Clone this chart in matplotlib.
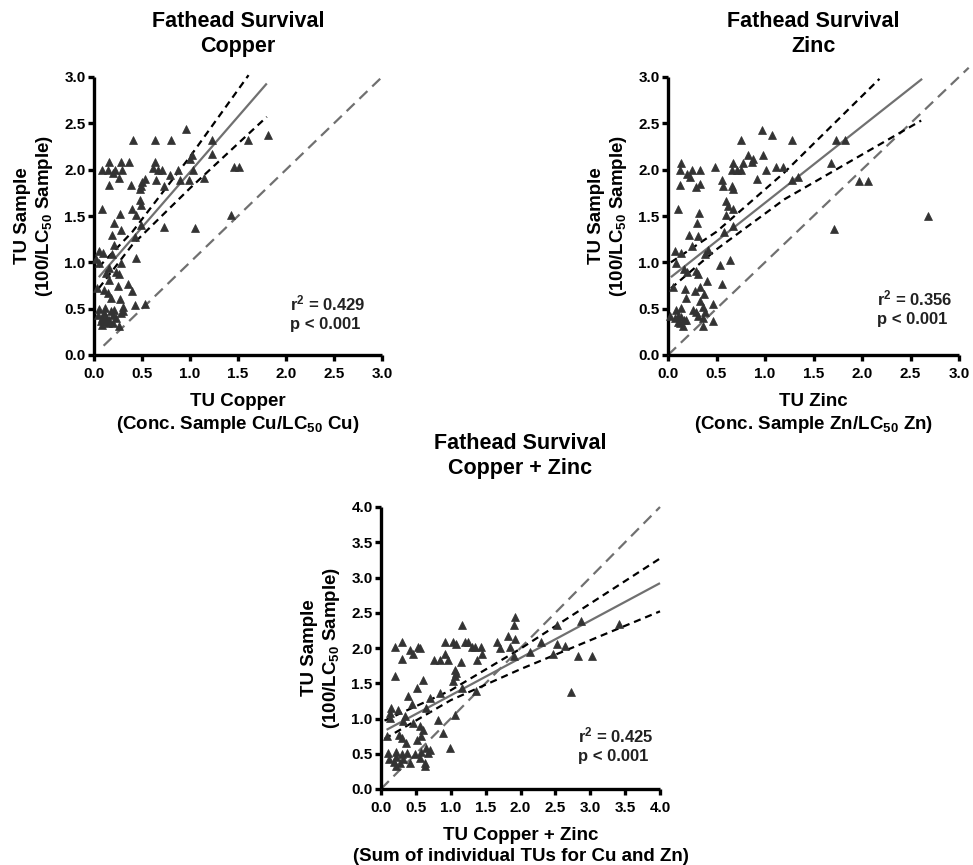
import matplotlib
matplotlib.use("Agg")
import matplotlib.pyplot as plt
import numpy as np

plt.rcParams['font.family'] = ['Liberation Sans', 'DejaVu Sans']
plt.rcParams['font.weight'] = 'bold'
plt.rcParams['mathtext.fontset'] = 'custom'
plt.rcParams['mathtext.rm'] = 'Liberation Sans:bold'
plt.rcParams['mathtext.it'] = 'Liberation Sans:bold'
plt.rcParams['mathtext.bf'] = 'Liberation Sans:bold'

# ---------------- data ----------------
cu_x = [0.958, 0.405, 0.634, 0.803, 1.225, 1.60, 1.81, 1.225, 1.02, 1.0, 0.158, 0.282, 0.363, 0.634,
        0.081, 0.141, 0.222, 0.292, 0.194, 0.257, 0.158, 0.616, 0.669, 0.704, 0.641, 0.792, 0.88, 1.03,
        0.898, 0.986, 1.144, 1.46, 1.51, 0.528, 0.503, 0.493, 0.475, 0.387, 0.729, 0.475, 0.493, 0.088,
        0.398, 0.433, 0.271, 1.426, 0.205, 0.493, 0.729, 1.049, 0.282, 0.187, 0.423, 0.211, 0.053, 0.095,
        0.19, 0.433, 0.018, 0.053, 0.282, 0.158, 0.229, 0.257, 0.123, 0.158, 0.352, 0.246, 0.035, 0.106,
        0.398, 0.141, 0.176, 0.271, 0.423, 0.528, 0.299, 0.299, 0.282, 0.053, 0.116, 0.211, 0.046, 0.088,
        0.123, 0.158, 0.194, 0.081, 0.141, 0.106, 0.176, 0.229, 0.264, 0.07, 0.13, 0.20]
cu_y = [2.44, 2.32, 2.32, 2.32, 2.32, 2.32, 2.37, 2.17, 2.16, 2.12, 2.08, 2.08, 2.08, 2.08,
        2.0, 2.0, 2.0, 2.0, 1.96, 1.91, 1.83, 2.02, 2.0, 2.0, 1.89, 1.94, 2.0, 2.0,
        1.89, 1.89, 1.91, 2.03, 2.03, 1.90, 1.87, 1.82, 1.79, 1.83, 1.82, 1.67, 1.62, 1.58,
        1.58, 1.51, 1.52, 1.51, 1.42, 1.40, 1.38, 1.37, 1.35, 1.30, 1.27, 1.19, 1.12, 1.10,
        1.09, 1.05, 1.04, 0.99, 0.99, 0.94, 0.90, 0.87, 0.88, 0.81, 0.77, 0.74, 0.72, 0.70,
        0.69, 0.67, 0.61, 0.60, 0.54, 0.55, 0.52, 0.47, 0.45, 0.50, 0.51, 0.49, 0.43, 0.40,
        0.41, 0.38, 0.43, 0.32, 0.34, 0.45, 0.47, 0.40, 0.31, 0.37, 0.37, 0.35]

zn_x = [0.966, 1.076, 0.748, 1.276, 1.731, 1.828, 0.828, 0.983, 0.879, 0.862, 0.666, 0.769, 1.683, 0.131,
        0.483, 0.128, 0.252, 0.328, 0.655, 0.714, 0.748, 1.01, 1.11, 1.19, 0.197, 0.231, 0.328, 0.293,
        0.128, 0.552, 0.569, 0.655, 0.672, 0.914, 1.276, 1.338, 1.966, 2.06, 0.603, 0.621, 0.666, 0.603,
        0.103, 0.321, 0.303, 0.666, 0.579, 1.707, 2.68, 0.217, 0.31, 0.252, 0.414, 0.379, 0.069, 0.138,
        0.079, 0.638, 0.534, 0.162, 0.197, 0.293, 0.31, 0.397, 0.052, 0.172, 0.276, 0.328, 0.552, 0.19,
        0.369, 0.328, 0.459, 0.079, 0.138, 0.259, 0.362, 0.293, 0.379, 0.017, 0.069, 0.103, 0.138, 0.162,
        0.103, 0.155, 0.19, 0.31, 0.362, 0.466, 0.362, 0.128]
zn_y = [2.43, 2.37, 2.32, 2.32, 2.32, 2.32, 2.16, 2.16, 2.12, 2.08, 2.07, 2.07, 2.07, 2.07,
        2.03, 2.0, 2.0, 2.0, 2.0, 2.0, 2.0, 2.0, 2.03, 2.03, 1.95, 1.92, 1.84, 1.81,
        1.83, 1.89, 1.82, 1.82, 1.79, 1.90, 1.89, 1.92, 1.88, 1.88, 1.66, 1.61, 1.58, 1.51,
        1.58, 1.53, 1.42, 1.39, 1.33, 1.36, 1.50, 1.30, 1.28, 1.18, 1.13, 1.09, 1.12, 1.10,
        0.99, 1.03, 0.97, 0.93, 0.90, 0.91, 0.87, 0.80, 0.73, 0.71, 0.69, 0.73, 0.77, 0.62,
        0.66, 0.58, 0.55, 0.49, 0.51, 0.49, 0.52, 0.46, 0.46, 0.42, 0.40, 0.42, 0.41, 0.38,
        0.36, 0.31, 0.38, 0.42, 0.40, 0.37, 0.31, 0.34]

cz_x = [1.92, 1.90, 1.16, 2.52, 2.87, 3.41, 1.82, 1.92, 1.66, 2.29, 1.03, 0.92, 1.20, 1.25,
        0.30, 1.07, 1.30, 1.35, 1.44, 0.20, 0.53, 0.56, 1.85, 2.52, 2.64, 0.41, 0.46, 1.71,
        0.92, 1.45, 2.13, 2.47, 0.30, 0.76, 0.85, 0.96, 1.37, 1.14, 2.83, 3.02, 1.90, 1.065,
        1.08, 1.06, 1.03, 0.20, 0.60, 0.51, 1.16, 0.84, 0.70, 1.36, 2.73, 0.39, 0.45, 0.65,
        0.14, 0.24, 0.13, 1.06, 0.34, 0.13, 0.82, 0.32, 0.46, 0.56, 0.60, 0.26, 0.89, 0.36,
        0.30, 0.58, 0.08, 0.51, 0.99, 0.65, 0.70, 0.68, 0.58, 0.105, 0.22, 0.49, 0.12, 0.18,
        0.22, 0.27, 0.32, 0.41, 0.56, 0.63, 0.63, 0.22, 0.30, 0.37]
cz_y = [2.44, 2.33, 2.33, 2.33, 2.38, 2.34, 2.17, 2.13, 2.08, 2.08, 2.08, 2.08, 2.08, 2.08,
        2.08, 2.05, 2.01, 2.01, 2.01, 2.01, 2.01, 2.0, 2.01, 2.05, 2.03, 1.97, 1.91, 2.0,
        1.91, 1.91, 1.94, 1.91, 1.84, 1.83, 1.83, 1.83, 1.83, 1.80, 1.89, 1.89, 1.89, 1.69,
        1.65, 1.60, 1.53, 1.60, 1.54, 1.43, 1.43, 1.36, 1.29, 1.39, 1.37, 1.32, 1.20, 1.15,
        1.15, 1.12, 1.08, 1.05, 1.03, 1.01, 0.98, 0.96, 0.94, 0.89, 0.84, 0.77, 0.79, 0.65,
        0.72, 0.75, 0.75, 0.70, 0.58, 0.58, 0.55, 0.51, 0.53, 0.51, 0.53, 0.49, 0.42, 0.39,
        0.46, 0.37, 0.43, 0.37, 0.44, 0.37, 0.32, 0.32, 0.49, 0.51]

# regression lines (end points) and 95% confidence bands
cu_fit_x, cu_fit_y = [0.05, 1.80], [0.84, 2.93]
cu_up_x, cu_up_y = [0.05, 0.4, 1.0, 1.61], [0.95, 1.33, 2.14, 3.02]
cu_lo_x, cu_lo_y = [0.05, 0.4, 1.0, 1.80], [0.72, 1.19, 1.80, 2.57]
cu_id_x, cu_id_y = [0.1, 3.0], [0.1, 3.0]

zn_fit_x, zn_fit_y = [0.03, 2.62], [0.84, 2.98]
zn_up_x, zn_up_y = [0.03, 0.5, 1.2, 2.18], [1.0, 1.33, 1.97, 2.98]
zn_lo_x, zn_lo_y = [0.03, 0.5, 1.2, 2.61], [0.72, 1.14, 1.68, 2.53]
zn_id_x, zn_id_y = [0.0, 3.1], [0.0, 3.1]

cz_fit_x, cz_fit_y = [0.08, 4.0], [0.84, 2.92]
cz_up_x, cz_up_y = [0.05, 1.0, 2.0, 4.0], [0.97, 1.40, 1.99, 3.27]
cz_lo_x, cz_lo_y = [0.05, 1.0, 2.0, 4.0], [0.71, 1.26, 1.70, 2.52]
cz_id_x, cz_id_y = [0.0, 4.0], [0.0, 4.0]

stats = ["r$^{2}$ = 0.429\np < 0.001", "r$^{2}$ = 0.356\np < 0.001", "r$^{2}$ = 0.425\np < 0.001"]
titles = ["Fathead Survival\nCopper", "Fathead Survival\nZinc", "Fathead Survival\nCopper + Zinc"]
xlabels = ["TU Copper\n(Conc. Sample Cu/LC$_{50}$ Cu)",
           "TU Zinc\n(Conc. Sample Zn/LC$_{50}$ Zn)",
           "TU Copper + Zinc\n(Sum of individual TUs for Cu and Zn)"]
ylabel = "TU Sample\n(100/LC$_{50}$ Sample)"

# ---------------- figure ----------------
W, H = 973, 865
fig = plt.figure(figsize=(W / 100, H / 100), dpi=100)

def px_axes(x0, x1, ytop, ybot):
    return fig.add_axes([x0 / W, 1 - ybot / H, (x1 - x0) / W, (ybot - ytop) / H])

ax1 = px_axes(94, 382, 77, 355)
ax2 = px_axes(668, 959, 77, 355)
ax3 = px_axes(381, 660, 507, 789)

MARK = '#333333'
GRAY = '#707070'

panels = [
    (ax1, cu_x, cu_y, cu_fit_x, cu_fit_y, cu_up_x, cu_up_y, cu_lo_x, cu_lo_y, cu_id_x, cu_id_y, 3.0, 0.68, 0.153, 18),
    (ax2, zn_x, zn_y, zn_fit_x, zn_fit_y, zn_up_x, zn_up_y, zn_lo_x, zn_lo_y, zn_id_x, zn_id_y, 3.0, 0.718, 0.171, 18),
    (ax3, cz_x, cz_y, cz_fit_x, cz_fit_y, cz_up_x, cz_up_y, cz_lo_x, cz_lo_y, cz_id_x, cz_id_y, 4.0, 0.706, 0.156, 24),
]

for i, (ax, x, y, fx, fy, ux, uy, lx, ly, ix, iy, lim, tx, ty, tpad) in enumerate(panels):
    ax.plot(ix, iy, color=GRAY, lw=1.6, dashes=(5, 3), clip_on=False, zorder=2)
    ax.plot(ux, uy, color='black', lw=1.6, dashes=(3.2, 2.2), clip_on=False, zorder=2)
    ax.plot(lx, ly, color='black', lw=1.6, dashes=(3.2, 2.2), clip_on=False, zorder=2)
    ax.plot(fx, fy, color=GRAY, lw=1.6, solid_capstyle='butt', clip_on=False, zorder=2)
    ax.plot(x, y, linestyle='none', marker='^', ms=6, color=MARK, mec=MARK, mew=0.5, zorder=3, clip_on=False)

    ax.set_xlim(0, lim)
    ax.set_ylim(0, lim)
    ticks = np.arange(0, lim + 0.01, 0.5)
    ax.set_xticks(ticks)
    ax.set_yticks(ticks)
    ax.set_xticklabels([f"{t:.1f}" for t in ticks])
    ax.set_yticklabels([f"{t:.1f}" for t in ticks])
    for side in ('top', 'right'):
        ax.spines[side].set_visible(False)
    for side in ('left', 'bottom'):
        ax.spines[side].set_linewidth(2.4)
        ax.spines[side].set_capstyle('butt')
    ax.tick_params(direction='out', length=4, width=2.4, labelsize=11)
    ax.tick_params(axis='x', pad=4.5)
    ax.tick_params(axis='y', pad=2)
    for lab in ax.get_xticklabels() + ax.get_yticklabels():
        lab.set_fontweight('bold')

    ax.set_title(titles[i], fontsize=15.5, fontweight='bold', pad=tpad, linespacing=1.22)
    ax.set_xlabel(xlabels[i], fontsize=13.5, fontweight='bold', labelpad=9, linespacing=1.25)
    ax.set_ylabel(ylabel, fontsize=13.5, fontweight='bold', labelpad=7, linespacing=1.15)
    ax.text(tx, ty, stats[i], transform=ax.transAxes, ha='left', va='center',
            fontsize=12, fontweight='bold', color='#222222', linespacing=1.3)

fig.savefig("out.png", dpi=100)
